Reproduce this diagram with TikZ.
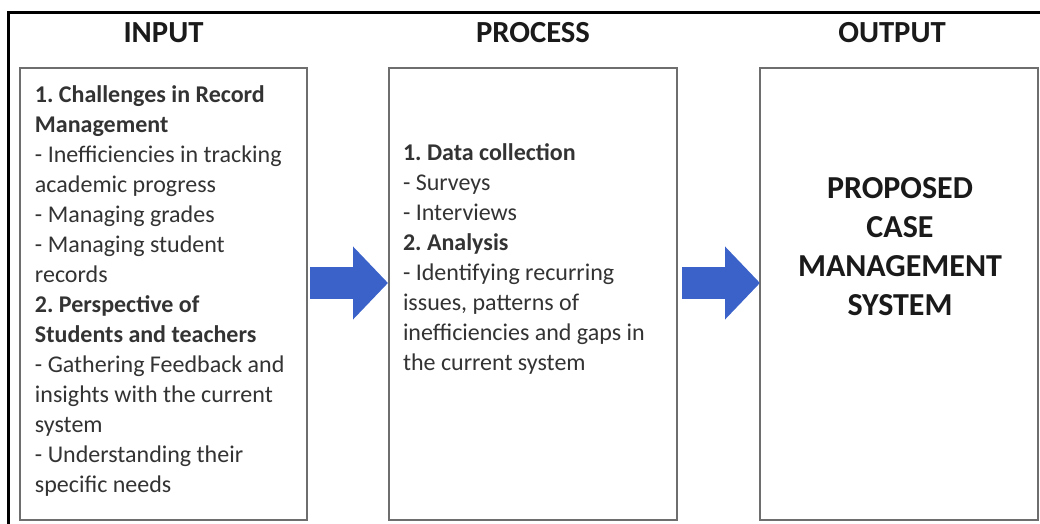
\documentclass[tikz,border=0pt]{standalone}
\usepackage{fontspec}
\setmainfont{Carlito}
\frenchspacing
\usetikzlibrary{arrows.meta}

\definecolor{c3b62c8}{RGB}{59,98,200}
\definecolor{c6e6e6e}{RGB}{110,110,110}
\definecolor{c333333}{RGB}{51,51,51}
\definecolor{c1a1a1a}{RGB}{26,26,26}
\def \globalscale {0.750000}

\begin{document}
\begin{tikzpicture}[y=-\globalscale pt, x=\globalscale pt, inner sep=0pt, outer sep=0pt,
  box/.style={draw=c6e6e6e, fill=white, line width=1.5pt, minimum height=339pt},
  heading/.style={text=c1a1a1a, font=\fontsize{23}{28}\selectfont\bfseries},
  body/.style={text=c333333, align=left, anchor=north west, font=\fontsize{18}{22.5}\selectfont},
  flow/.style={draw=c3b62c8, line width=24pt, -{Triangle[width=53.25pt, length=26.25pt]}}]

  \useasboundingbox (0, 0) rectangle (1040, 524);

  \clip (0, 0) rectangle (1040, 524);



  \path[draw=black, line width=2.25pt] (8, 13) rectangle (1050, 540);



  \node[box, minimum width=215.25pt] (input) at (163.5, 294){};



  \node[box, minimum width=216pt] (process) at (533, 294){};



  \node[box, minimum width=208.5pt] (output) at (899, 294){};



  \node[heading] (inputhead) at (163.5, 33){INPUT};



  \node[heading] (processhead) at (533, 33){PROCESS};



  \node[heading] (outputhead) at (892, 33){OUTPUT};



  \node[body] (inputtext) at (35, 86){\textbf{1. Challenges in Record}\\
  \textbf{Management}\\
  - Inefficiencies in tracking\\
  academic progress\\
  - Managing grades\\
  - Managing student\\
  records\\
  \textbf{2. Perspective of}\\
  \textbf{Students and teachers}\\
  - Gathering Feedback and\\
  insights with the current\\
  system\\
  - Understanding their\\
  specific needs};



  \node[body] (processtext) at (403, 144){\textbf{1. Data collection}\\
  - Surveys\\
  - Interviews\\
  \textbf{2. Analysis}\\
  - Identifying recurring\\
  issues, patterns of\\
  inefficiencies and gaps in\\
  the current system};



  \node[text=c1a1a1a, align=center, font=\fontsize{24}{29.25}\selectfont\bfseries] (outputtext) at (900, 247){PROPOSED\\
  CASE\\
  MANAGEMENT\\
  SYSTEM};



  \draw[flow] ([shift={(3, -11)}]input.east) -- ([shift={(-1, -11)}]process.west);



  \draw[flow] ([shift={(5, -11)}]process.east) -- ([shift={(0, -11)}]output.west);




\end{tikzpicture}
\end{document}
